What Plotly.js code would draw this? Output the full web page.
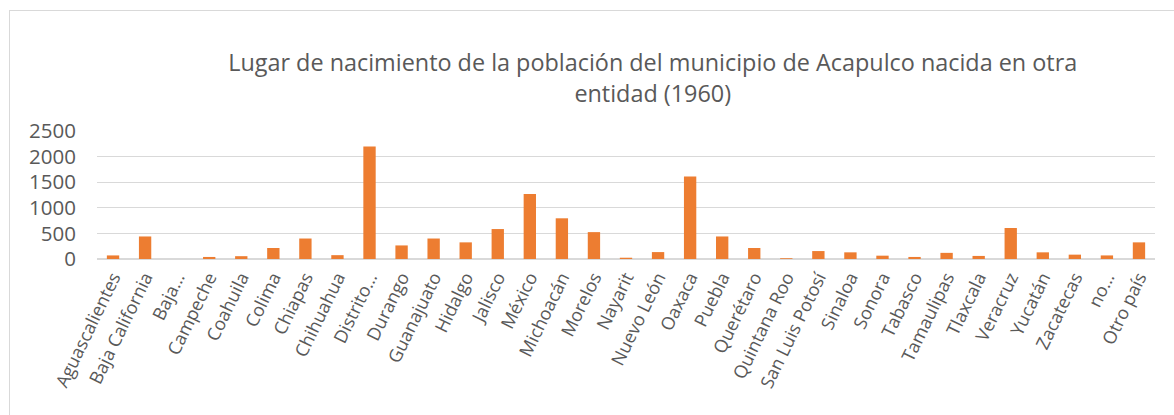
<!DOCTYPE html>
<html>
<head>
<meta charset="utf-8">
<script src="https://cdn.plot.ly/plotly-3.0.1.min.js"></script>
<style>
  html, body { margin: 0; padding: 0; background: #fff; }
  #wrap { position: relative; width: 1174px; height: 415px; overflow: hidden; }
  #chart { position: absolute; left: 0; top: 0; width: 1174px; height: 415px; }
  #frame { position: absolute; left: 9px; top: 10px; width: 1200px; height: 500px;
           border-top: 1px solid #d9d9d9; border-left: 1px solid #d9d9d9; pointer-events: none; }
</style>
</head>
<body>
<div id="wrap">
  <div id="chart"></div>
  <div id="frame"></div>
</div>
<script>
const categories = [
  "Aguascalientes", "Baja California", "Baja…", "Campeche", "Coahuila", "Colima",
  "Chiapas", "Chihuahua", "Distrito…", "Durango", "Guanajuato", "Hidalgo",
  "Jalisco", "México", "Michoacán", "Morelos", "Nayarit", "Nuevo León",
  "Oaxaca", "Puebla", "Querétaro", "Quintana Roo", "San Luis Potosí", "Sinaloa",
  "Sonora", "Tabasco", "Tamaulipas", "Tlaxcala", "Veracruz", "Yucatán",
  "Zacatecas", "no…", "Otro país"
];
const values = [
  70, 440, 0, 40, 55, 215,
  400, 75, 2195, 265, 400, 325,
  585, 1270, 795, 525, 25, 135,
  1610, 440, 215, 15, 155, 130,
  65, 40, 120, 60, 605, 130,
  85, 70, 325
];
const yTicks = [0, 500, 1000, 1500, 2000, 2500];
const titleText = "Lugar de nacimiento de la población del municipio de Acapulco nacida en otra<br>entidad (1960)";

const trace = {
  type: "bar",
  x: categories,
  y: values,
  marker: { color: "#ED7D31" },
  hoverinfo: "x+y"
};

const layout = {
  width: 1174,
  height: 415,
  margin: { l: 97, r: 19, t: 131, b: 156 },
  paper_bgcolor: "#ffffff",
  plot_bgcolor: "#ffffff",
  font: { family: "Open Sans, sans-serif", color: "#595959" },
  title: {
    text: titleText,
    font: { family: "Open Sans, sans-serif", size: 23.4, color: "#595959" },
    x: 0.556, xref: "container", xanchor: "center",
    y: 0.828, yref: "container", yanchor: "top"
  },
  bargap: 0.615,
  showlegend: false,
  xaxis: {
    type: "category",
    tickangle: -64,
    tickfont: { size: 18, color: "#595959" },
    showline: true, linecolor: "#d9d9d9", linewidth: 1,
    ticks: "", showgrid: false, automargin: false
  },
  yaxis: {
    range: [0, 2500],
    tickvals: yTicks,
    ticktext: yTicks.map(String),
    tickfont: { size: 20.5, color: "#595959" },
    showgrid: true, gridcolor: "#d9d9d9", gridwidth: 1.3,
    zeroline: true, zerolinecolor: "#d9d9d9", zerolinewidth: 1.3,
    ticks: "", ticklabelstandoff: 20, automargin: false
  }
};

Plotly.newPlot("chart", [trace], layout, { displayModeBar: false, staticPlot: true });
</script>
</body>
</html>
